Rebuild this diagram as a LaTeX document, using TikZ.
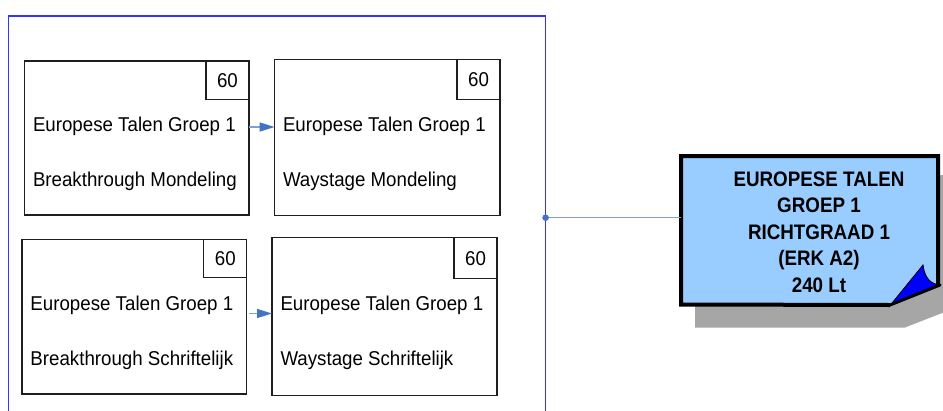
\documentclass[tikz,border=0pt]{standalone}
\usepackage{fontspec}
\setmainfont{Liberation Sans}[FakeStretch=0.935]
\newfontfamily\titlefont{Liberation Sans}[FakeStretch=0.895]
\usetikzlibrary{arrows.meta,calc}
\definecolor{grpblue}{RGB}{51,51,250}
\definecolor{connline}{RGB}{128,160,212}
\definecolor{conndot}{RGB}{68,114,196}
\definecolor{boxline}{RGB}{30,30,30}
\definecolor{notefill}{RGB}{153,204,255}
\definecolor{foldblue}{RGB}{0,0,255}
\definecolor{shadowgray}{RGB}{166,166,166}
\begin{document}
\begin{tikzpicture}[x=1pt,y=-1pt,
  lbox/.style={draw=boxline, line width=1.3pt, rectangle, inner sep=0pt, outer sep=0pt, anchor=north west, minimum width=224.7pt, minimum height=154pt},
  numbox/.style={draw=boxline, line width=1.3pt, rectangle, inner sep=0pt, outer sep=0pt, anchor=north east, minimum width=43pt, minimum height=38.5pt, font=\fontsize{20}{24}\selectfont},
  ltext/.style={anchor=base west, inner sep=0pt, outer sep=0pt, font=\fontsize{20}{24}\selectfont},
  arr/.style={draw=connline, line width=1.2pt, -{Triangle[length=15pt,width=9pt,fill=conndot,color=conndot]}},
  conn/.style={draw=connline, line width=1.2pt}
]
\useasboundingbox (0,0) rectangle (943,410);
\clip (0,0) rectangle (943,410);
\fill[white] (0,0) rectangle (943,410);

% group rectangle
\node[draw=grpblue, line width=1.4pt, rectangle, inner sep=0pt, outer sep=0pt, anchor=north west, minimum width=537pt, minimum height=420pt] (grp) at (8.6,16) {};

% boxes
\node[lbox] (b1) at (24.3,61) {};
\node[numbox] (n1) at (b1.north east) {60};
\node[ltext] (t1a) at (33,131.5) {Europese Talen Groep 1};
\node[ltext] (t1b) at (33,186) {Breakthrough Mondeling};

\node[lbox, minimum width=225.4pt, minimum height=156.4pt] (b2) at (274.6,59.3) {};
\node[numbox, minimum height=40pt] (n2) at (b2.north east) {60};
\node[ltext] (t2a) at (283,131.5) {Europese Talen Groep 1};
\node[ltext] (t2b) at (283,186) {Waystage Mondeling};

\node[lbox, minimum height=154.7pt] (b3) at (22.1,239.3) {};
\node[numbox] (n3) at (b3.north east) {60};
\node[ltext] (t3a) at (30.5,310.5) {Europese Talen Groep 1};
\node[ltext] (t3b) at (30.5,365) {Breakthrough Schriftelijk};

\node[lbox, minimum width=225pt, minimum height=157.6pt] (b4) at (272,237.7) {};
\node[numbox, minimum height=41pt] (n4) at (b4.north east) {60};
\node[ltext] (t4a) at (280.5,310.5) {Europese Talen Groep 1};
\node[ltext] (t4b) at (280.5,365) {Waystage Schriftelijk};

% arrows
\coordinate (a1) at (0,127);
\coordinate (a2) at (0,313.5);
\draw[arr] (b1.east |- a1) -- (b2.west |- a1);
\draw[arr] ([xshift=2pt]b3.east |- a2) -- (b4.west |- a2);

% note box (named node for text)
\node[inner sep=0pt, outer sep=0pt, minimum width=257pt, minimum height=148.5pt] (rb) at (809.5,230.25) {};
% shadow
\fill[shadowgray] (695,175) -- (960,175) -- (960,306) -- (905,327.5) -- (695,327.5) -- cycle;
% note body
\fill[notefill] (rb.north west) -- (rb.north east) -- (938,285) -- (890,305) -- (rb.south west) -- cycle;
% fold
\filldraw[fill=foldblue, draw=black, line width=0.8pt] (890,305.5) -- (923,265) .. controls (925,279) and (931,284) .. (940,285) -- cycle;
% outline
\draw[black, line width=4pt, line join=miter] (938,285) -- (rb.north east) -- (rb.north west) -- (rb.south west) -- (890,305);
\draw[black, line width=3pt, line cap=round] (890,305) -- (940,285);
\node[align=center, inner sep=0pt, font=\titlefont\bfseries\fontsize{21}{26.6}\selectfont, anchor=base] (rt) at (819,292.4) {EUROPESE TALEN\\GROEP 1\\RICHTGRAAD 1\\(ERK A2)\\240 Lt};

% connector
\coordinate (cp) at (grp.east |- 0,217.7);
\draw[conn] (cp) -- (cp -| rb.west);
\fill[conndot] (cp) circle (3.3pt);
\end{tikzpicture}
\end{document}
